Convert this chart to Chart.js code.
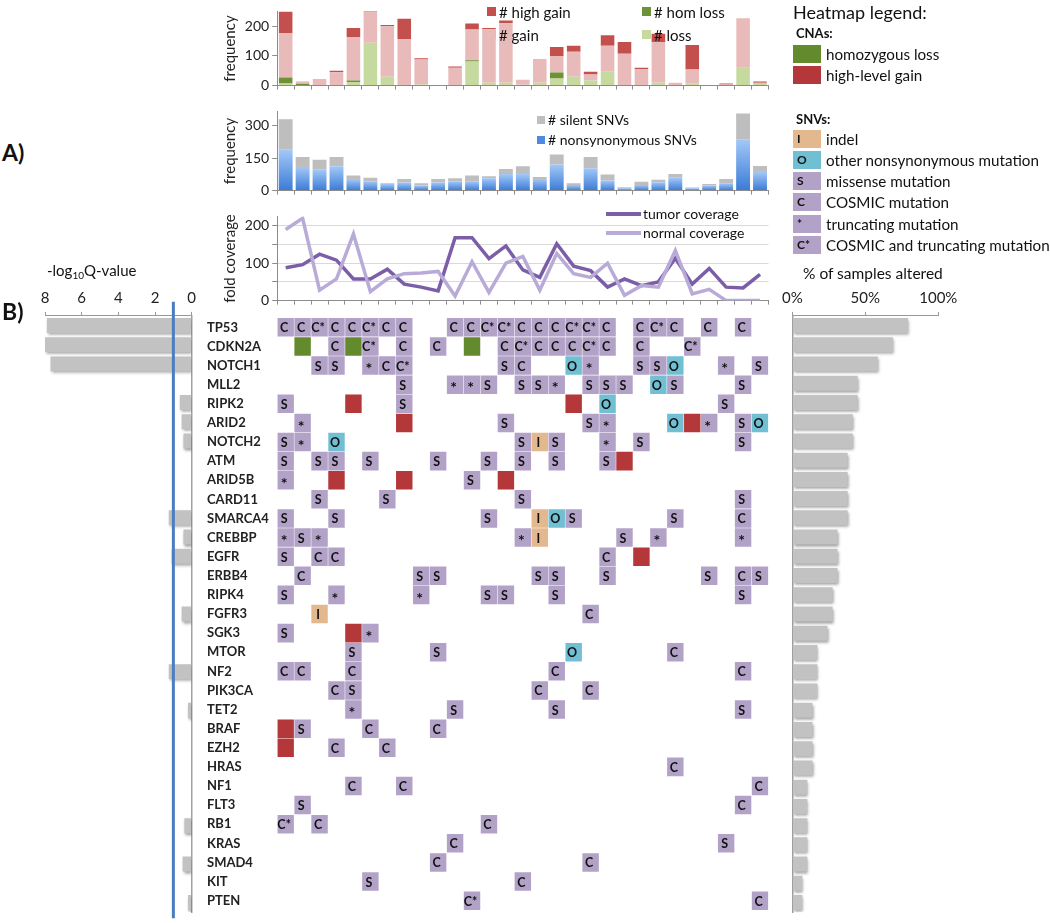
<!DOCTYPE html>
<html>
<head>
<meta charset="utf-8">
<title>Somatic alteration landscape</title>
<script src="https://cdn.jsdelivr.net/npm/chart.js@4.4.1/dist/chart.umd.min.js"></script>
<style>
html,body{margin:0;padding:0;background:#fff}
body{width:1050px;height:923px;position:relative;overflow:hidden;font-family:Lato,"Open Sans","DejaVu Sans",sans-serif;color:#111}
canvas{position:absolute;display:block}
.t{position:absolute;white-space:nowrap;transform:translateY(-50%);line-height:1.1}
.sq{position:absolute;width:9px;height:9px}
.ln{position:absolute;height:4px;width:35px}
.box{position:absolute;width:28px;height:18px}
.bl{position:absolute;font-weight:bold;font-size:12px;line-height:18px;left:4px;top:0}
sub{font-size:10px;vertical-align:-3px}
</style>
</head>
<body>
<canvas id="cna" width="560" height="97" style="left:217px;top:0px"></canvas>
<canvas id="snv" width="560" height="102" style="left:217px;top:100px"></canvas>
<canvas id="cov" width="560" height="107" style="left:217px;top:205px"></canvas>
<canvas id="heat" width="570" height="608" style="left:207px;top:310px"></canvas>
<canvas id="qval" width="207" height="640" style="left:0px;top:280px"></canvas>
<canvas id="pct" width="273" height="640" style="left:777px;top:280px"></canvas>

<div class="t" style="left:2px;top:153px;font-size:23px;font-weight:bold">A)</div>
<div class="t" style="left:2px;top:312px;font-size:23px;font-weight:bold">B)</div>
<div class="t" style="left:47px;top:271px;font-size:15px">-log<sub>10</sub>Q-value</div>
<div class="t" style="left:803px;top:274px;font-size:15.5px">% of samples altered</div>

<!-- CNA legend -->
<div class="sq" style="left:487px;top:7px;background:#c4504e"></div>
<div class="t" style="left:499px;top:12px;font-size:15px"># high gain</div>
<div class="sq" style="left:487px;top:30px;background:#e9baba"></div>
<div class="t" style="left:499px;top:35px;font-size:15px"># gain</div>
<div class="sq" style="left:642px;top:7px;background:#6f9237"></div>
<div class="t" style="left:654px;top:12px;font-size:15px"># hom loss</div>
<div class="sq" style="left:642px;top:30px;background:#c6d99f"></div>
<div class="t" style="left:654px;top:35px;font-size:15px"># loss</div>

<!-- SNV legend -->
<div class="sq" style="left:537px;top:116px;width:8px;height:8px;background:#bebebe"></div>
<div class="t" style="left:548px;top:120px;font-size:14px"># silent SNVs</div>
<div class="sq" style="left:537px;top:136px;width:8px;height:8px;background:#4f8ae0"></div>
<div class="t" style="left:548px;top:140px;font-size:14px"># nonsynonymous SNVs</div>

<!-- coverage legend -->
<div class="ln" style="left:606px;top:212px;background:#7b5ea7"></div>
<div class="t" style="left:643px;top:214px;font-size:14px">tumor coverage</div>
<div class="ln" style="left:606px;top:231px;background:#b9abd8"></div>
<div class="t" style="left:643px;top:233px;font-size:14px">normal coverage</div>

<!-- heatmap legend -->
<div class="t" style="left:793px;top:13px;font-size:18px">Heatmap legend:</div>
<div class="t" style="left:796px;top:33px;font-size:13px;font-weight:bold">CNAs:</div>
<div class="t" style="left:796px;top:119px;font-size:13px;font-weight:bold">SNVs:</div>
<div id="hmLegend"></div>

<script>
// ---------------- data ----------------
const samples = ['P1','P2','P3','P4','P5','P6','P7','P8','P9','P10','P11','P12','P13','P14','P15',
                 'P16','P17','P18','P19','P20','P21','P22','P23','P24','P25','P26','P27','P28','P29'];

// copy-number alteration counts per sample
const cnaLoss     = [7,2,0,0,12,144,30,0,4,0,0,81,10,10,3,10,24,30,17,47,0,0,10,0,7,0,0,60,5];
const cnaHomLoss  = [20,4,0,0,5,0,0,0,0,0,0,4,0,0,0,0,20,0,0,0,0,0,0,0,0,0,0,0,0];
const cnaGain     = [150,6,22,45,147,103,170,157,84,0,60,104,180,200,17,80,56,84,20,87,107,56,137,10,47,0,4,167,5];
const cnaHighGain = [73,1,0,5,30,5,4,68,4,0,4,20,4,9,0,0,30,20,10,36,40,4,28,0,83,0,3,0,4];

// SNV counts per sample
const snvNonsyn = [188,109,96,112,53,43,30,37,24,37,43,43,57,76,76,53,120,26,103,47,11,26,39,59,11,24,34,237,86];
const snvSilent = [141,46,46,43,17,16,4,16,10,16,14,27,9,24,36,10,46,8,52,27,5,15,11,17,3,6,19,118,27];

// fold coverage per sample
const tumorCov  = [88,96,124,108,58,58,84,44,36,26,168,168,112,146,82,62,152,92,80,36,58,40,50,113,44,86,36,34,70];
const normalCov = [190,220,28,58,178,24,58,72,74,78,12,104,22,100,118,28,126,72,62,100,14,40,36,134,18,30,0,0,0];

// genes (rows of panel B)
const genes = ['TP53','CDKN2A','NOTCH1','MLL2','RIPK2','ARID2','NOTCH2','ATM','ARID5B','CARD11','SMARCA4',
               'CREBBP','EGFR','ERBB4','RIPK4','FGFR3','SGK3','MTOR','NF2','PIK3CA','TET2','BRAF','EZH2',
               'HRAS','NF1','FLT3','RB1','KRAS','SMAD4','KIT','PTEN'];
const negLog10Q = [7.9,8.0,7.7,0,0.65,0.55,0.45,0,0,0,1.25,0.45,1.1,0,0,0.55,0,0,1.25,0,0.2,0,0,0,0,0,0.4,0,0.5,0,0.2];
const qThreshold = 1;
const pctAltered = [79.3,69.0,58.6,44.8,44.8,41.4,41.4,37.9,37.9,37.9,37.9,31.0,31.0,31.0,27.6,27.6,24.1,
                    17.2,17.2,17.2,13.8,13.8,13.8,13.8,10.3,10.3,10.3,10.3,10.3,6.9,6.9];
const pctTicks = [0,50,100];

// heatmap: one string per gene, one character per sample
// L=homozygous loss, G=high-level gain, I=indel, O=other nonsyn, S=missense, C=COSMIC, *=truncating, K=COSMIC+truncating
const hmRows = [
"CCKCCKCC..CCKKCCCKKC.CKC.C.C.",
".L.CLK.C.C.L.CKCCCKC.C..K....",
"..SS.*CK.....SC..O*..SSO..*.S",
".......S..**S.SS*.SSS.OS...S.",
"S...G..S.........G.O......S..",
".*.....G.....S....S*...OG*.SO",
"S*.O..........SIS..*.S.....S.",
"S.SS.S...S..S.S.S..SG........",
"*..G...G...S.G...............",
"..S...S.......S............S.",
"S..S........S..IOS.....S...C.",
"*S*...........*I....S.*....*.",
"S.CC...............C.G.......",
".C......SS.....SS..S.....S.CS",
"S..*....*...SS..S..........S.",
"..I...............C..........",
"S...G*.......................",
"....S....S.......O.....C.....",
"CC..C...........C..........C.",
"...CS..........C..C..........",
"....*.....S.....S..........S.",
"GS...C...C...................",
"G..C..C......................",
".......................C.....",
"....C..C....................C",
".S.........................C.",
"K.C.........C................",
"..........C...............S..",
".........C........C..........",
".....S........C..............",
"...........K................C"
];

// ---------------- styles ----------------
const COL = {
  highGain:'#c4504e', gain:'#e9baba', homLoss:'#6f9237', loss:'#c6d99f',
  silent:'#bebebe', nsTop:'#a3c8f7', nsBottom:'#3b7bd6',
  tumor:'#7b5ea7', normal:'#b9abd8',
  purple:'#b3a2c7', green:'#648a2e', red:'#b4373a', tan:'#e4b88f', cyan:'#70bfd3',
  bar:'#c2c2c2', axis:'#8c8c8c', grid:'#d9d9d9', text:'#222'
};
const cellTypes = [
  {code:'L', name:'homozygous loss', color:COL.green, letter:''},
  {code:'G', name:'high-level gain', color:COL.red, letter:''},
  {code:'I', name:'indel', color:COL.tan, letter:'I'},
  {code:'O', name:'other nonsynonymous mutation', color:COL.cyan, letter:'O'},
  {code:'S', name:'missense mutation', color:COL.purple, letter:'S'},
  {code:'C', name:'COSMIC mutation', color:COL.purple, letter:'C'},
  {code:'*', name:'truncating mutation', color:COL.purple, letter:'*'},
  {code:'K', name:'COSMIC and truncating mutation', color:COL.purple, letter:'C*'}
];

Chart.defaults.font.family = 'Lato, "Open Sans", sans-serif';
Chart.defaults.color = COL.text;
const common = {responsive:false, animation:false, devicePixelRatio:1, events:[],
  plugins:{legend:{display:false}, tooltip:{enabled:false}}};
const tickFont = {size:14};

function xCat(height){
  return {type:'category', offset:true, stacked:true,
    ticks:{display:false},
    grid:{offset:true, drawOnChartArea:false, drawTicks:true, tickLength:4, tickColor:COL.axis},
    border:{color:COL.axis},
    afterFit(s){ s.height = height; }};
}
function yVal(max, step, title, extra){
  return Object.assign({min:0, max:max, stacked:true,
    ticks:{stepSize:step, includeBounds:false, font:tickFont, padding:3},
    grid:{drawOnChartArea:false, tickLength:5, tickColor:COL.axis},
    border:{color:COL.axis},
    title:{display:true, text:title, font:{size:15}, padding:{top:4,bottom:0}},
    afterFit(s){ s.width = 60.2; }}, extra||{});
}

// ---- CNA stacked bars ----
new Chart(document.getElementById('cna'), {
  type:'bar',
  data:{labels:samples, datasets:[
    {label:'# loss', data:cnaLoss, backgroundColor:COL.loss},
    {label:'# hom loss', data:cnaHomLoss, backgroundColor:COL.homLoss},
    {label:'# gain', data:cnaGain, backgroundColor:COL.gain},
    {label:'# high gain', data:cnaHighGain, backgroundColor:COL.highGain}
  ]},
  options:Object.assign({}, common, {
    layout:{padding:{top:5.75, right:8.5, left:0, bottom:0}},
    datasets:{bar:{categoryPercentage:1, barPercentage:0.8, borderWidth:0}},
    scales:{x:xCat(5), y:yVal(250, 100, 'frequency')}
  })
});

// ---- SNV stacked bars ----
function nsGradient(ctx){
  const chart = ctx.chart;
  if (!chart.chartArea || ctx.type !== 'data') return COL.nsBottom;
  const y = chart.scales.y;
  const top = y.getPixelForValue(ctx.raw), bot = y.getPixelForValue(0);
  const g = chart.ctx.createLinearGradient(0, top, 0, bot + 0.01);
  g.addColorStop(0, COL.nsTop); g.addColorStop(1, COL.nsBottom);
  return g;
}
new Chart(document.getElementById('snv'), {
  type:'bar',
  data:{labels:samples, datasets:[
    {label:'# nonsynonymous SNVs', data:snvNonsyn, backgroundColor:nsGradient},
    {label:'# silent SNVs', data:snvSilent, backgroundColor:COL.silent}
  ]},
  options:Object.assign({}, common, {
    layout:{padding:{top:5.75, right:8.5, left:0, bottom:0}},
    datasets:{bar:{categoryPercentage:1, barPercentage:0.82, borderWidth:0}},
    scales:{x:xCat(5), y:yVal(365, 150, 'frequency')}
  })
});

// ---- coverage lines ----
new Chart(document.getElementById('cov'), {
  type:'line',
  data:{labels:samples, datasets:[
    {label:'tumor coverage', data:tumorCov, borderColor:COL.tumor, borderWidth:3.5, pointRadius:0, tension:0, order:1},
    {label:'normal coverage', data:normalCov, borderColor:COL.normal, borderWidth:3.5, pointRadius:0, tension:0, order:0}
  ]},
  options:Object.assign({}, common, {
    layout:{padding:{top:7.2, right:8.5, left:0, bottom:0}},
    scales:{
      x:xCat(5.3),
      y:yVal(225, 50, 'fold coverage', {stacked:false,
        ticks:{stepSize:50, includeBounds:false, font:tickFont, padding:3,
               callback:v => (v % 100 === 0 ? v : '')},
        grid:{drawOnChartArea:true, color:COL.grid, tickLength:5, tickColor:COL.axis}})
    }
  })
});

// ---- heatmap ----
const cellData = {};
cellTypes.forEach(t => cellData[t.code] = []);
hmRows.forEach((row, r) => {
  for (let c = 0; c < row.length && c < samples.length; c++) {
    const ch = row[c];
    if (cellData[ch]) cellData[ch].push({x:samples[c], y:[r - 0.485, r + 0.485]});
  }
});
const letterPlugin = {
  id:'cellLetters',
  afterDatasetsDraw(chart){
    const ctx = chart.ctx;
    ctx.save();
    ctx.fillStyle = '#111';
    ctx.textAlign = 'center';
    ctx.textBaseline = 'middle';
    chart.data.datasets.forEach((ds, i) => {
      if (!ds.letter) return;
      const star = ds.letter === '*';
      ctx.font = (star ? 'bold 16px' : 'bold 12.5px') + ' Lato, "Open Sans", sans-serif';
      chart.getDatasetMeta(i).data.forEach(el => {
        const cy = (el.y + el.base) / 2;
        ctx.fillText(ds.letter, el.x - 1.5, cy + (star ? 3.5 : 1));
      });
    });
    ctx.restore();
  }
};
new Chart(document.getElementById('heat'), {
  type:'bar',
  data:{labels:samples, datasets:cellTypes.map(t => ({
    label:t.name, data:cellData[t.code], backgroundColor:t.color, letter:t.letter,
    grouped:false, categoryPercentage:1, barPercentage:0.97, borderWidth:0, yAxisID:'y'
  }))},
  options:Object.assign({}, common, {
    layout:{padding:{top:5.87, right:8.5, left:0, bottom:5.8}},
    scales:{
      x:{type:'category', labels:samples, offset:true, display:false},
      y:{type:'linear', min:-0.5, max:30.5, reverse:true, display:false},
      genes:{type:'category', axis:'y', labels:genes, position:'left', offset:true,
        grid:{display:false, drawTicks:false}, border:{display:false},
        ticks:{crossAlign:'far', autoSkip:false, padding:0, font:{size:13, weight:'bold'}, color:COL.text},
        afterFit(s){ s.width = 70.2; }}
    }
  }),
  plugins:[letterPlugin]
});

// ---- side bar charts ----
const shadowPlugin = {
  id:'barShadow',
  beforeDatasetsDraw(chart){ const c = chart.ctx; c.save();
    c.shadowColor = 'rgba(0,0,0,0.4)'; c.shadowBlur = 3; c.shadowOffsetX = 1; c.shadowOffsetY = 2; },
  afterDatasetsDraw(chart){ chart.ctx.restore(); }
};
const thresholdPlugin = {
  id:'qThreshold',
  afterDraw(chart){
    const x = chart.scales.x.getPixelForValue(qThreshold);
    const a = chart.chartArea, c = chart.ctx;
    c.save(); c.strokeStyle = '#4a7ebd'; c.lineWidth = 3;
    c.beginPath(); c.moveTo(x, a.top - 14); c.lineTo(x, a.bottom + 6); c.stroke(); c.restore();
  }
};
function sideX(extra){
  return Object.assign({position:'top', min:0,
    ticks:{font:{size:15}, padding:5, color:COL.text},
    grid:{drawOnChartArea:false, tickLength:4, tickColor:'#999'},
    border:{color:'#999'},
    afterFit(s){ s.height = 35.87; }}, extra);
}
function sideY(pos){
  return {position:pos, ticks:{display:false}, grid:{display:false, drawTicks:false},
    border:{color:'#a0a0a0', width:1.5}, afterFit(s){ s.width = 0; }};
}
new Chart(document.getElementById('qval'), {
  type:'bar',
  data:{labels:genes, datasets:[{label:'-log10 Q-value', data:negLog10Q, backgroundColor:COL.bar,
    categoryPercentage:1, barPercentage:0.78, borderWidth:0}]},
  options:Object.assign({}, common, {
    indexAxis:'y',
    layout:{padding:{top:0, left:45, right:15.3, bottom:7.8}},
    scales:{x:sideX({reverse:true, max:8, ticks:{stepSize:2, font:{size:15}, padding:5, color:COL.text}}),
            y:sideY('right')}
  }),
  plugins:[shadowPlugin, thresholdPlugin]
});
new Chart(document.getElementById('pct'), {
  type:'bar',
  data:{labels:genes, datasets:[{label:'% of samples altered', data:pctAltered, backgroundColor:COL.bar,
    categoryPercentage:1, barPercentage:0.78, borderWidth:0}]},
  options:Object.assign({}, common, {
    indexAxis:'y',
    layout:{padding:{top:0, left:14.7, right:111.7, bottom:7.8}},
    scales:{x:sideX({max:100, afterBuildTicks(s){ s.ticks = pctTicks.map(v => ({value:v})); },
              ticks:{font:{size:15}, padding:5, color:COL.text, callback:v => v + '%'}}),
            y:sideY('left')}
  }),
  plugins:[shadowPlugin]
});

// ---- heatmap legend (HTML) ----
const legTops = {L:45, G:66, I:130, O:151, S:172, C:193, '*':215, K:236};
const leg = document.getElementById('hmLegend');
cellTypes.forEach(t => {
  const top = legTops[t.code];
  const b = document.createElement('div');
  b.className = 'box';
  b.style.left = '793px'; b.style.top = top + 'px'; b.style.background = t.color;
  if (t.letter) { const l = document.createElement('div'); l.className = 'bl'; l.textContent = t.letter; b.appendChild(l); }
  leg.appendChild(b);
  const tx = document.createElement('div');
  tx.className = 't';
  tx.style.left = '826px'; tx.style.top = (top + 9) + 'px'; tx.style.fontSize = '15.2px';
  tx.textContent = t.name;
  leg.appendChild(tx);
});
</script>
</body>
</html>
